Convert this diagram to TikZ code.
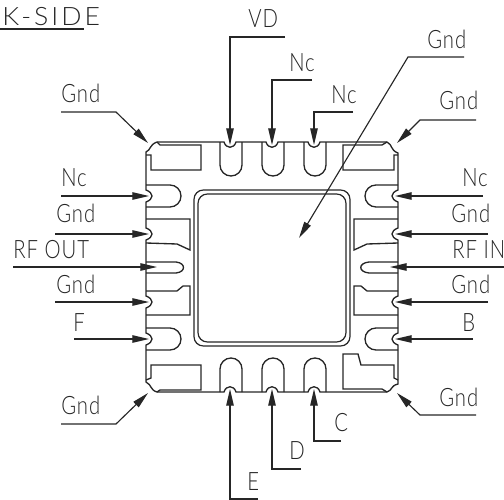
\documentclass[tikz,border=0pt]{standalone}
\usepackage{fontspec}
\usepackage{tikz}
\usetikzlibrary{arrows.meta}
\newfontfamily\dwgfont[FakeStretch=.8,LetterSpace=4]{Lato Light}
\newfontfamily\titlefont[FakeStretch=1.05,LetterSpace=12]{Lato Light}
\tikzset{every picture/.append style={x=.75pt, y=-.75pt}}
\tikzset{
    every node/.style={inner sep=0pt, anchor=base west, text=black!85,
    	font=\dwgfont\fontsize{19}{19}\selectfont},
    outline/.style={line width=1pt, black!85},
    pad/.style={line width=.9pt, black!85, rounded corners=7},
    leader/.style={line width=.85pt, black!85},
    pointer/.style={leader, -{Triangle[length=12.5pt, width=5.6pt]}}
}
\begin{document}
\begin{tikzpicture}
	\useasboundingbox (0,0) rectangle (504,500);

	% labels
	\node (title) [font=\titlefont\fontsize{19}{19}\selectfont] at (2,25) {K-SIDE};
	\node (vd) at (248,27) {VD};
	\node (ncA) at (289,71) {Nc};
	\node (ncB) at (331,103) {Nc};
	\node (gndPad) at (427,48) {Gnd};
	\node (gndTL) at (61,102) {Gnd};
	\node (gndTR) at (439,109) {Gnd};
	\node (ncL) at (61,186) {Nc};
	\node (ncR) at (462,186) {Nc};
	\node (gndLA) at (56,222) {Gnd};
	\node (gndRA) at (451,222) {Gnd};
	\node (rfout) at (13,258) {RF OUT};
	\node (rfin) at (452,258) {RF IN};
	\node (gndLB) at (56,293) {Gnd};
	\node (gndRB) at (451,293) {Gnd};
	\node (f) at (73,331) {F};
	\node (b) at (462,331) {B};
	\node (gndBL) at (61,414) {Gnd};
	\node (gndBR) at (439,406) {Gnd};
	\node (c) at (334,431) {C};
	\node (d) at (289,459) {D};
	\node (e) at (247,490) {E};

	% ends of the leaders
	\coordinate (titleA) at (0,29); \coordinate (titleB) at (84,29);
	\coordinate (vdA) at (285,37); \coordinate (vdB) at (230,37); \coordinate (vdT) at (230,145);
	\coordinate (ncAA) at (312,80); \coordinate (ncAB) at (272,80); \coordinate (ncAT) at (272,145);
	\coordinate (ncBA) at (353,112); \coordinate (ncBB) at (314,112); \coordinate (ncBT) at (314,145);
	\coordinate (gndPadA) at (464,57); \coordinate (gndPadB) at (408,57); \coordinate (gndPadT) at (299,238);
	\coordinate (gndTLA) at (61,112); \coordinate (gndTLB) at (116,112); \coordinate (gndTLT) at (148,143);
	\coordinate (gndTRA) at (476,120); \coordinate (gndTRB) at (420,120); \coordinate (gndTRT) at (397,143);
	\coordinate (ncLA) at (61,196); \coordinate (ncLT) at (149,196);
	\coordinate (ncRA) at (483,196); \coordinate (ncRT) at (395,196);
	\coordinate (gndLAA) at (55,234); \coordinate (gndLAT) at (149,234);
	\coordinate (gndRAA) at (488,234); \coordinate (gndRAT) at (395,234);
	\coordinate (rfoutA) at (13,267); \coordinate (rfoutT) at (157,267);
	\coordinate (rfinA) at (504,267); \coordinate (rfinT) at (390,267);
	\coordinate (gndLBA) at (55,302); \coordinate (gndLBT) at (149,302);
	\coordinate (gndRBA) at (488,302); \coordinate (gndRBT) at (395,302);
	\coordinate (fA) at (74,339); \coordinate (fT) at (149,339);
	\coordinate (bA) at (473,339); \coordinate (bT) at (395,339);
	\coordinate (gndBLA) at (61,424); \coordinate (gndBLB) at (116,424); \coordinate (gndBLT) at (148,393);
	\coordinate (gndBRA) at (476,415); \coordinate (gndBRB) at (420,415); \coordinate (gndBRT) at (397,393);
	\coordinate (cA) at (341,441); \coordinate (cB) at (314,441); \coordinate (cT) at (314,389);
	\coordinate (dA) at (301,469); \coordinate (dB) at (272,469); \coordinate (dT) at (272,389);
	\coordinate (eA) at (258,499); \coordinate (eB) at (230,499); \coordinate (eT) at (230,389);

	% outer edge of the package
	\draw[outline] (146,152) .. controls (151,150) and (149,145) .. (157,142) -- (224,142)
		.. controls (226,149) and (234,149) .. (236,142) -- (266,142)
		.. controls (268,149) and (276,149) .. (278,142) -- (308,142)
		.. controls (310,149) and (318,149) .. (320,142) -- (387,142)
		.. controls (393,145) and (390,150) .. (398,153) -- (398,190)
		.. controls (390,193) and (390,199) .. (398,202) -- (398,228)
		.. controls (390,231) and (390,237) .. (398,240) -- (398,296)
		.. controls (390,299) and (390,305) .. (398,308) -- (398,333)
		.. controls (390,336) and (390,342) .. (398,345) -- (398,384)
		.. controls (390,386) and (393,390) .. (387,392) -- (320,392)
		.. controls (318,385) and (310,385) .. (308,392) -- (278,392)
		.. controls (276,385) and (268,385) .. (266,392) -- (236,392)
		.. controls (234,385) and (226,385) .. (224,392) -- (157,392)
		.. controls (150,390) and (152,385) .. (146,382) -- (146,345)
		.. controls (154,342) and (154,336) .. (146,333) -- (146,308)
		.. controls (154,305) and (154,299) .. (146,296) -- (146,240)
		.. controls (154,237) and (154,231) .. (146,228) -- (146,202)
		.. controls (154,199) and (154,193) .. (146,190) -- cycle;

	% corner lands
	\draw[outline] (157,142) -- (160,145) -- (201,145) -- (201,170) -- (151,170) -- (151,155) -- (146,155);
	\draw[outline] (387,142) -- (382,145) -- (343,145) -- (343,170) -- (394,170) -- (394,155) -- (398,155);
	\draw[outline] (146,380) -- (151,378) -- (151,365) -- (201,365) -- (201,390) -- (160,390) -- (157,392);
	\draw[outline] (398,380) -- (394,378) -- (394,365) -- (361,365) -- (358,354) -- (343,354) -- (343,389) -- (382,389) -- (387,392);

	% pins on the top edge
	\draw[outline] (220,142) -- (220,165) arc[start angle=180, end angle=0, radius=11] -- (242,142);
	\draw[outline] (262,142) -- (262,165) arc[start angle=180, end angle=0, radius=11] -- (284,142);
	\draw[outline] (304,142) -- (304,165) arc[start angle=180, end angle=0, radius=11] -- (326,142);

	% pins on the bottom edge
	\draw[outline] (220,392) -- (220,369) arc[start angle=-180, end angle=0, radius=11] -- (242,392);
	\draw[outline] (262,392) -- (262,369) arc[start angle=-180, end angle=0, radius=11] -- (284,392);
	\draw[outline] (304,392) -- (304,369) arc[start angle=-180, end angle=0, radius=11] -- (326,392);

	% pins on the left edge
	\draw[outline] (146,185) -- (170,185) arc[start angle=-90, end angle=90, radius=11] -- (146,207);
	\draw[outline] (146,219) -- (190,219) -- (190,250) -- (177,244) -- (146,243);
	\draw[outline] (146,262) -- (176,262) .. controls (186,263) and (186,272) .. (176,273) -- (146,273);
	\draw[outline] (146,291) -- (177,291) -- (183,286) -- (190,286) -- (190,315) -- (146,315);
	\draw[outline] (146,328) -- (170,328) arc[start angle=-90, end angle=90, radius=11] -- (146,350);

	% pins on the right edge
	\draw[outline] (398,185) -- (376,185) arc[start angle=270, end angle=90, radius=11] -- (398,207);
	\draw[outline] (398,219) -- (354,219) -- (354,250) -- (367,244) -- (398,243);
	\draw[outline] (398,262) -- (369,262) .. controls (358,263) and (358,272) .. (369,273) -- (398,273);
	\draw[outline] (398,291) -- (367,291) -- (361,286) -- (354,286) -- (354,315) -- (398,315);
	\draw[outline] (398,328) -- (376,328) arc[start angle=270, end angle=90, radius=11] -- (398,350);

	% centre pad
	\draw[pad] (194,190) rectangle (350,346);
	\draw[pad] (198,194) rectangle (346,342);

	% leaders
	\draw[leader] (titleA) -- (titleB);
	\draw[pointer] (vdA) -- (vdB) -- (vdT);
	\draw[pointer] (ncAA) -- (ncAB) -- (ncAT);
	\draw[pointer] (ncBA) -- (ncBB) -- (ncBT);
	\draw[pointer] (gndPadA) -- (gndPadB) -- (gndPadT);
	\draw[pointer] (gndTLA) -- (gndTLB) -- (gndTLT);
	\draw[pointer] (gndTRA) -- (gndTRB) -- (gndTRT);
	\draw[pointer] (ncLA) -- (ncLT); \draw[pointer] (ncRA) -- (ncRT);
	\draw[pointer] (gndLAA) -- (gndLAT); \draw[pointer] (gndRAA) -- (gndRAT);
	\draw[pointer] (rfoutA) -- (rfoutT); \draw[pointer] (rfinA) -- (rfinT);
	\draw[pointer] (gndLBA) -- (gndLBT); \draw[pointer] (gndRBA) -- (gndRBT);
	\draw[pointer] (fA) -- (fT); \draw[pointer] (bA) -- (bT);
	\draw[pointer] (gndBLA) -- (gndBLB) -- (gndBLT);
	\draw[pointer] (gndBRA) -- (gndBRB) -- (gndBRT);
	\draw[pointer] (cA) -- (cB) -- (cT);
	\draw[pointer] (dA) -- (dB) -- (dT);
	\draw[pointer] (eA) -- (eB) -- (eT);
\end{tikzpicture}
\end{document}
